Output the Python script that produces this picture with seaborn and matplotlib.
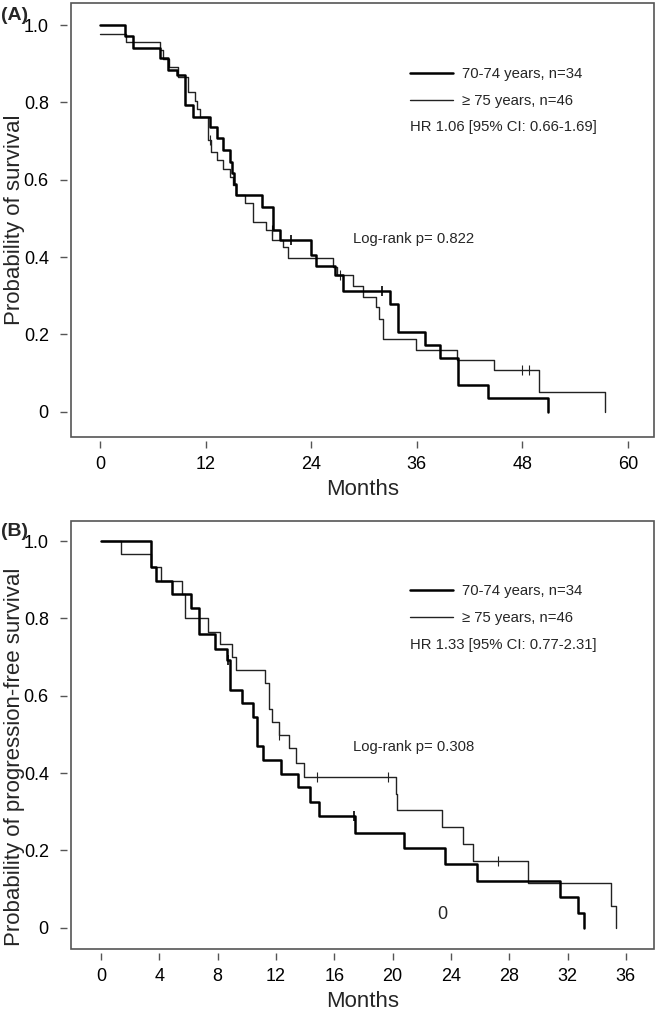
import matplotlib
matplotlib.use("Agg")
import numpy as np
import pandas as pd
import matplotlib.pyplot as plt
import matplotlib.patches as patches
import seaborn as sns

# ---- panel A: overall survival (months, survival prob) ----
a_young_t = [0, 2.8, 3.8, 6.8, 7.7, 8.7, 9.6, 9.66, 10.6, 12.5, 13.3, 14.0, 14.8, 15.0, 15.2, 15.45,
             18.4, 19.7, 20.45, 24.0, 24.5, 26.7, 27.65, 33.0, 33.9, 36.9, 38.6, 40.7, 44.1, 50.9]
a_young_s = [1.0, 0.971, 0.941, 0.914, 0.884, 0.871, 0.849, 0.794, 0.763, 0.737, 0.707, 0.677, 0.647, 0.618, 0.588, 0.561,
             0.530, 0.470, 0.444, 0.405, 0.377, 0.354, 0.313, 0.280, 0.207, 0.172, 0.138, 0.069, 0.035, 0.0]
a_old_t = [0, 3.0, 6.8, 7.2, 7.8, 8.9, 10.0, 10.8, 11.0, 11.4, 12.3, 12.6, 13.3, 14.0, 14.8, 15.1, 15.45,
           16.5, 17.4, 18.9, 19.5, 20.8, 21.4, 26.5, 26.9, 28.7, 29.85, 31.4, 31.7, 32.1, 35.9, 40.6, 44.8, 49.9, 57.4]
a_old_s = [0.978, 0.957, 0.935, 0.913, 0.891, 0.866, 0.828, 0.804, 0.783, 0.763, 0.703, 0.672, 0.651, 0.629, 0.608, 0.587, 0.561,
           0.539, 0.491, 0.470, 0.444, 0.425, 0.399, 0.375, 0.354, 0.325, 0.297, 0.270, 0.241, 0.188, 0.161, 0.134, 0.108, 0.052, 0.0]
a_young_cens_t = [21.7, 32.0]
a_young_cens_s = [0.444, 0.313]
a_old_cens_t = [12.5, 19.5, 27.3, 47.9, 48.75]
a_old_cens_s = [0.703, 0.470, 0.354, 0.108, 0.108]

# ---- panel B: progression-free survival ----
b_young_t = [0, 3.43, 3.74, 4.9, 6.2, 6.72, 7.8, 8.62, 8.85, 9.65, 10.43, 10.7, 11.13, 12.35, 13.53, 14.33, 14.95,
             17.4, 20.8, 23.6, 25.8, 31.5, 32.7, 33.1]
b_young_s = [1.0, 0.932, 0.898, 0.864, 0.828, 0.759, 0.722, 0.692, 0.616, 0.582, 0.544, 0.470, 0.435, 0.397, 0.363, 0.326, 0.290,
             0.246, 0.205, 0.164, 0.122, 0.080, 0.039, 0.0]
b_old_t = [0, 1.37, 3.43, 4.1, 5.58, 5.76, 7.36, 8.16, 8.96, 9.26, 11.25, 11.5, 11.7, 12.2, 12.9, 13.37, 13.9,
           20.2, 20.28, 23.4, 24.8, 25.5, 29.3, 35.0, 35.3]
b_old_s = [1.0, 0.966, 0.932, 0.898, 0.864, 0.802, 0.765, 0.735, 0.701, 0.666, 0.634, 0.565, 0.533, 0.498, 0.464, 0.427, 0.390,
           0.347, 0.304, 0.261, 0.216, 0.173, 0.115, 0.056, 0.0]
b_young_cens_t = [8.7, 17.35]
b_young_cens_s = [0.692, 0.290]
b_old_cens_t = [12.2, 14.8, 19.7, 27.2]
b_old_cens_s = [0.498, 0.390, 0.390, 0.173]

legend_labels = ["70-74 years, n=34", "\u2265 75 years, n=46"]

sns.set_theme(style="white")
plt.rcParams["font.family"] = ["Liberation Sans", "DejaVu Sans"]

fig = plt.figure(figsize=(6.6, 10.18), dpi=100)
W, H = 660, 1018
axA = fig.add_axes([71 / W, 1 - 437 / H, 583 / W, 434 / H])
axB = fig.add_axes([71 / W, 1 - 949 / H, 583 / W, 428 / H])

gray = "#555555"
small = 10.7


def km_panel(ax, yt, ys, ot, os_, yct, ycs, oct_, ocs, hr, pval, ptxt_xy, xticks, xlim, ylim, ylabel, ylab_y):
    dy = pd.DataFrame({"t": yt, "s": ys})
    do = pd.DataFrame({"t": ot, "s": os_})
    sns.lineplot(data=do, x="t", y="s", ax=ax, estimator=None, drawstyle="steps-post",
                 color="#222222", linewidth=1.0, label=legend_labels[1])
    sns.lineplot(data=dy, x="t", y="s", ax=ax, estimator=None, drawstyle="steps-post",
                 color="black", linewidth=1.8, label=legend_labels[0])
    sns.scatterplot(x=yct, y=ycs, ax=ax, marker="|", s=45, color="black", linewidth=1.2)
    sns.scatterplot(x=oct_, y=ocs, ax=ax, marker="|", s=45, color="#222222", linewidth=0.8)

    ax.set_xlim(*xlim)
    ax.set_ylim(*ylim)
    ax.set_xticks(xticks)
    ax.set_xticklabels([str(v) for v in xticks])
    ax.set_yticks([0, 0.2, 0.4, 0.6, 0.8, 1.0])
    ax.set_yticklabels(["0", "0.2", "0.4", "0.6", "0.8", "1.0"])
    ax.set_xlabel("Months", fontsize=16)
    ax.set_ylabel(ylabel, fontsize=16)
    ax.yaxis.set_label_coords(-0.079, ylab_y)

    for sp in ax.spines.values():
        sp.set_visible(False)
    ax.spines["left"].set_position(("outward", 3))
    ax.spines["bottom"].set_position(("outward", 3))
    ax.add_patch(patches.Rectangle((0, 0), 1, 1, transform=ax.transAxes, fill=False,
                                   edgecolor=gray, linewidth=1.2, clip_on=False))
    ax.tick_params(axis="both", which="both", direction="out", length=5, width=1,
                   color=gray, labelsize=13, labelcolor="black",
                   left=True, bottom=True)
    ax.tick_params(axis="x", pad=6)
    ax.tick_params(axis="y", pad=8)

    h, l = ax.get_legend_handles_labels()
    order = [l.index(legend_labels[0]), l.index(legend_labels[1])]
    ax.legend([h[i] for i in order], [l[i] for i in order], loc="upper left",
              bbox_to_anchor=(0.5815, 0.852), frameon=False, fontsize=small,
              handlelength=2.87, handletextpad=0.6, labelspacing=0.85,
              borderpad=0, borderaxespad=0)
    ax.text(0.5815, ptxt_xy[2], hr, transform=ax.transAxes, fontsize=small, va="center", ha="left")
    ax.text(ptxt_xy[0], ptxt_xy[1], pval, fontsize=small, va="center", ha="left")


km_panel(axA, a_young_t, a_young_s, a_old_t, a_old_s, a_young_cens_t, a_young_cens_s,
         a_old_cens_t, a_old_cens_s, "HR 1.06 [95% CI: 0.66-1.69]", "Log-rank p= 0.822",
         (28.7, 0.448, 0.715), [0, 12, 24, 36, 48, 60], (-3.3, 62.95), (-0.065, 1.057),
         "Probability of survival", 0.5)
km_panel(axB, b_young_t, b_young_s, b_old_t, b_old_s, b_young_cens_t, b_young_cens_s,
         b_old_cens_t, b_old_cens_s, "HR 1.33 [95% CI: 0.77-2.31]", "Log-rank p= 0.308",
         (17.26, 0.468, 0.711), [0, 4, 8, 12, 16, 20, 24, 28, 32, 36], (-2.06, 37.93), (-0.055, 1.052),
         "Probability of progression-free survival", 0.45)
# stray "0" printed inside panel B of the original figure
axB.text(23.4, 0.035, "0", fontsize=13, ha="center", va="center")

fig.text(1 / W, 1 - 15 / H, "(A)", fontsize=14, fontweight="bold", va="center", ha="left")
fig.text(1 / W, 1 - 531 / H, "(B)", fontsize=14, fontweight="bold", va="center", ha="left")

fig.savefig("out.png", dpi=100)
